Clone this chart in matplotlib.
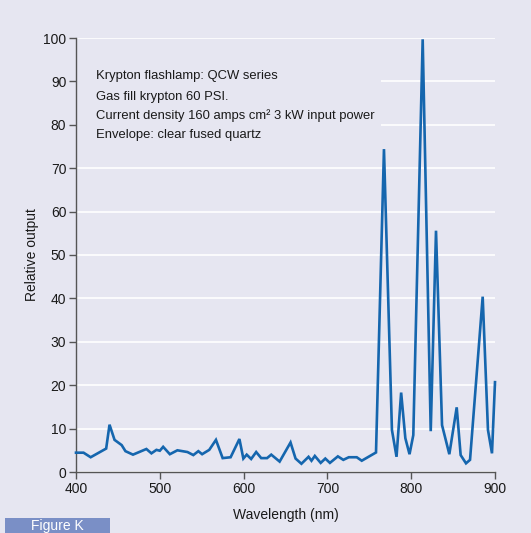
import matplotlib
matplotlib.use("Agg")
import matplotlib.pyplot as plt
from matplotlib.patches import Rectangle

wavelength = [400, 409, 417.5, 436, 440, 446, 454.5, 459, 468, 484, 490, 496, 500, 504,
              512, 521, 533, 540, 546, 550.5, 559, 567, 575, 584.5, 595, 599.7, 603.7, 609,
              615, 621, 628, 633, 643, 656, 662, 669, 677.5, 681, 685, 692, 697.5, 703,
              712.5, 719, 725.5, 735, 741, 758, 767.5, 777, 782.5, 788, 793, 798, 802.5,
              813.7, 823.3, 829.6, 836.8, 845.5, 854.3, 859, 865.4, 870.2, 885.3, 891.6,
              896.4, 900]
relative = [4.45, 4.45, 3.4, 5.4, 10.9, 7.4, 6.2, 4.8, 4.0, 5.3, 4.3, 5.1, 4.9, 5.8,
            4.1, 5.0, 4.6, 3.9, 4.8, 4.1, 5.1, 7.4, 3.2, 3.4, 7.6, 3.1, 4.0, 3.0,
            4.6, 3.2, 3.2, 4.0, 2.4, 6.8, 3.1, 1.9, 3.5, 2.6, 3.7, 2.1, 3.1, 2.1,
            3.6, 2.8, 3.4, 3.4, 2.6, 4.5, 74.4, 9.7, 3.5, 18.3, 7.8, 4.1, 8.5,
            99.7, 9.4, 55.6, 10.8, 4.1, 14.9, 3.9, 2.0, 2.8, 40.4, 9.7, 4.3, 20.7]
x_ticks = [400, 500, 600, 700, 800, 900]
y_ticks = [0, 10, 20, 30, 40, 50, 60, 70, 80, 90, 100]
notes = ["Krypton flashlamp: QCW series",
         "Gas fill krypton 60 PSI.",
         "Current density 160 amps cm\u00b2 3 kW input power",
         "Envelope: clear fused quartz"]

plt.rcParams['font.family'] = ['Liberation Sans', 'DejaVu Sans']
BG = '#E6E6F1'
W, H = 531, 533
fig = plt.figure(figsize=(W / 100, H / 100), dpi=100, facecolor=BG)
ax = fig.add_axes([76 / W, 1 - 472 / H, (495 - 76) / W, (472 - 38) / H], facecolor=BG)

ax.set_xlim(400, 900)
ax.set_ylim(0, 100)
ax.set_xticks(x_ticks)
ax.set_yticks(y_ticks)
ax.yaxis.grid(True, color='white', linewidth=1.2, zorder=0)
ax.set_axisbelow(True)
for s in ['top', 'right']:
    ax.spines[s].set_visible(False)
for s in ['left', 'bottom']:
    ax.spines[s].set_color('#555555')
    ax.spines[s].set_linewidth(1.0)
ax.tick_params(axis='both', direction='out', length=5, width=1.0, color='#555555',
               labelsize=10, labelcolor='#1a1a1a', pad=2)

ax.plot(wavelength, relative, color='#1566AE', linewidth=1.9, zorder=3, clip_on=False,
        solid_joinstyle='miter')

# box behind notes hiding gridlines
ax.add_patch(Rectangle((0, (472 - 146) / 434), (381 - 76) / 419, (146 - 58) / 434,
                       transform=ax.transAxes, facecolor=BG, edgecolor='none', zorder=1))
ys = [76, 97, 116, 135]
for t, y in zip(notes, ys):
    fig.text(96 / W, 1 - y / H, t, fontsize=9.4, color='#1a1a1a', va='center', ha='left')

ax.set_xlabel('Wavelength (nm)', fontsize=10, color='#1a1a1a', labelpad=9)
ax.set_ylabel('Relative output', fontsize=10, color='#1a1a1a', labelpad=3)

fig.patches.append(Rectangle((5 / W, 0), (110 - 5) / W, (533 - 518) / H,
                             transform=fig.transFigure, facecolor='#7A8FC6',
                             edgecolor='none', zorder=0))
fig.text(57 / W, 1 - 526 / H, 'Figure K', fontsize=10, color='white',
         ha='center', va='center')

fig.savefig('out.png', dpi=100, facecolor=BG)
